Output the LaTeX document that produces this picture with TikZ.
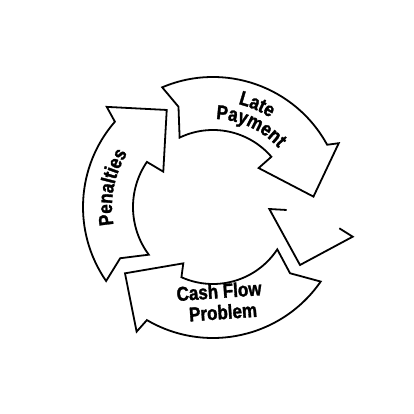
\documentclass[tikz,border=0pt]{standalone}
\usepackage{fontspec}
\newfontfamily\lblfont{Liberation Sans}[FakeStretch=0.85, BoldFeatures={FakeBold=1.5}]
\usetikzlibrary{decorations.text}
\newcommand\lbl{\lblfont\bfseries\fontsize{20}{21}\selectfont}
\begin{document}
\begin{tikzpicture}[x=1pt,y=1pt,
  arrowshape/.style={draw=black, line width=1.8pt, fill=white, line join=miter},
  lbltext/.style={font=\lbl, inner sep=0pt, align=center}]
\fill[white] (0,0) rectangle (414,414);
\useasboundingbox (0,0) rectangle (414,414);
\begin{scope}[shift={(213pt,207pt)}]
% Late Payment arrow
\draw[arrowshape] (113:130pt) -- (109:106pt) -- (115.7:77pt)
  arc[start angle=115.7, end angle=40.7, radius=77pt]
  -- (40.5:60pt) -- (5.9:101pt) -- (26.9:141pt) -- (28.6:130pt)
  arc[start angle=28.6, end angle=113, radius=130pt] -- cycle;
% Penalties arrow
\draw[arrowshape] (214.7:130pt) -- (208.9:106pt) -- (216.6:80pt)
  arc[start angle=216.6, end angle=145.7, radius=80pt]
  -- (144.6:61pt) -- (115.5:107.5pt) -- (136.7:146pt) -- (139:130pt)
  arc[start angle=139, end angle=214.7, radius=130pt] -- cycle;
% Cash Flow Problem arrow
\draw[arrowshape] (325.3:131pt) -- (319.3:101.6pt) -- (326.6:77pt)
  arc[start angle=326.6, end angle=245.8, radius=77pt]
  -- (242.2:63.7pt) -- (217:110.2pt) -- (238.5:146.2pt) -- (239.7:131pt)
  arc[start angle=239.7, end angle=325.3, radius=131pt] -- cycle;
% curved labels
\path[decorate, decoration={text along path, text={|\lbl|Late}, text align=center}]
  (106.8:106pt) arc[start angle=106.8, end angle=26.8, radius=106pt];
\path[decorate, decoration={text along path, text={|\lbl|Payment}, text align=center}]
  (115:88pt) arc[start angle=115, end angle=15, radius=88pt];
\path[decorate, decoration={text along path, text={|\lbl|Penalties}, text align=center}]
  (219:101pt) arc[start angle=219, end angle=119, radius=101pt];
\end{scope}
% straight labels
\node[lbltext, rotate=4] (cash) at (219,123) {Cash Flow};
\node[lbltext, rotate=4] (prob) at (223,102) {Problem};
% broken fragment at right
\draw[line width=1.8pt, line join=miter] (286.7,204) -- (269.3,205) -- (300,149) -- (352.7,177.3) -- (339.3,185.7);
\end{tikzpicture}
\end{document}
